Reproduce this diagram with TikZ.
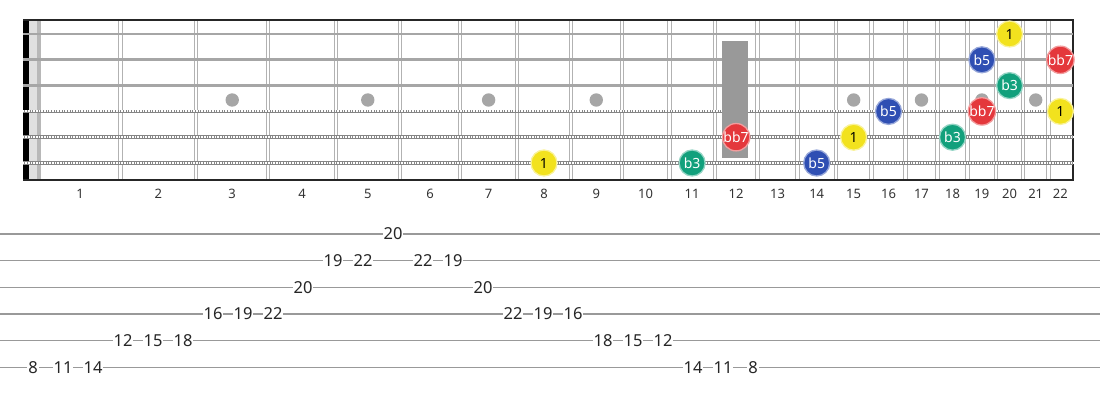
\documentclass[tikz,border=0pt]{standalone}
\usepackage{fontspec}
\setmainfont{Noto Sans}
\usepackage{xcolor}
\usetikzlibrary{positioning}

\definecolor{rootyellow}{HTML}{F2E21E}
\definecolor{fifthblue}{HTML}{2F4FB3}
\definecolor{thirdgreen}{HTML}{12A07C}
\definecolor{seventhred}{HTML}{E4383C}

\begin{document}
\begin{tikzpicture}[
    x=1pt, y=-1pt,
    declare function={fx(\n)=40+1435*(1-exp(-0.0577623*\n)); fm(\n)=(fx(\n-1)+fx(\n))/2; sy(\s)=34+25.8*(\s-1); ty(\s)=234+26.67*(\s-1);},
    fretwire/.style={draw=black!30, line width=1pt, double=white, double distance=2.4pt},
    plain/.style={draw=black!35, line width=2.8pt},
    wound/.style={draw=black!48, line width=3.6pt, postaction={draw=white, line width=2pt, dash pattern=on 0.8pt off 0.8pt}},
    inlay/.style={fill=black!35},
    fretnum/.style={font=\fontsize{13}{13}\selectfont, text=black!80},
    tabline/.style={draw=black!40, line width=1.5pt},
    tabnum/.style={fill=white, inner sep=1pt, font=\fontsize{16.5}{16.5}\selectfont, text=black!85},
    note/.style={circle, line width=1.3pt, minimum size=26pt, inner sep=0pt, font=\fontsize{14}{14}\selectfont, text=white},
    root/.style={note, fill=rootyellow, draw=rootyellow!45!white, text=black},
    third/.style={note, fill=thirdgreen, draw=thirdgreen!45!white},
    fifth/.style={note, fill=fifthblue, draw=fifthblue!50!white},
    seventh/.style={note, fill=seventhred, draw=seventhred!50!white}
]
    \useasboundingbox (0,0) rectangle (1100,400);

    \fill[black!12] (29,20) rectangle (37,180);
    \fill[black!28] (37,20) rectangle (41,180);
    \foreach \n in {1,...,21}
        \draw[fretwire] ({fx(\n)},20) -- ({fx(\n)},180);
    \foreach \n in {3,5,7,9,15,17,19,21}
        \fill[inlay] ({fm(\n)},100) circle (6.7);
    \fill[black] (23,19.1) rectangle (28.5,180.9);
    \draw[line width=1.8pt, black!85] (23,20) -- (1073,20) -- (1073,180) -- (23,180);
    \foreach \s in {1,2,3}
        \draw[plain] (23,{sy(\s)}) -- (1073,{sy(\s)});
    \foreach \s in {4,5,6}
        \draw[wound] (23,{sy(\s)}) -- (1073,{sy(\s)});
    \fill[black!40] (722,41) rectangle (748,158);

    \foreach \n in {1,...,22}
        \node[fretnum] (fn\n) at ({fm(\n)},194) {\n};

    \node[root] (s6f8) at ({fm(8)},{sy(6)}) {1};
    \node[third] (s6f11) at ({fm(11)},{sy(6)}) {b3};
    \node[fifth] (s6f14) at ({fm(14)},{sy(6)}) {b5};
    \node[seventh] (s5f12) at ({fm(12)},{sy(5)}) {bb7};
    \node[root] (s5f15) at ({fm(15)},{sy(5)}) {1};
    \node[third] (s5f18) at ({fm(18)},{sy(5)}) {b3};
    \node[fifth] (s4f16) at ({fm(16)},{sy(4)}) {b5};
    \node[seventh] (s4f19) at ({fm(19)},{sy(4)}) {bb7};
    \node[root] (s4f22) at ({fm(22)},{sy(4)}) {1};
    \node[third] (s3f20) at ({fm(20)},{sy(3)}) {b3};
    \node[fifth] (s2f19) at ({fm(19)},{sy(2)}) {b5};
    \node[seventh] (s2f22) at ({fm(22)},{sy(2)}) {bb7};
    \node[root] (s1f20) at ({fm(20)},{sy(1)}) {1};

    \foreach \s in {1,...,6}
        \draw[tabline] (0,{ty(\s)}) -- (1100,{ty(\s)});
    \foreach [count=\i] \v/\s in {8/6,11/6,14/6,12/5,15/5,18/5,16/4,19/4,22/4,20/3,19/2,22/2,20/1,22/2,19/2,20/3,22/4,19/4,16/4,18/5,15/5,12/5,14/6,11/6,8/6}
        \node[tabnum] (tab\i) at ({33+30*(\i-1)},{ty(\s)}) {\v};
\end{tikzpicture}
\end{document}
